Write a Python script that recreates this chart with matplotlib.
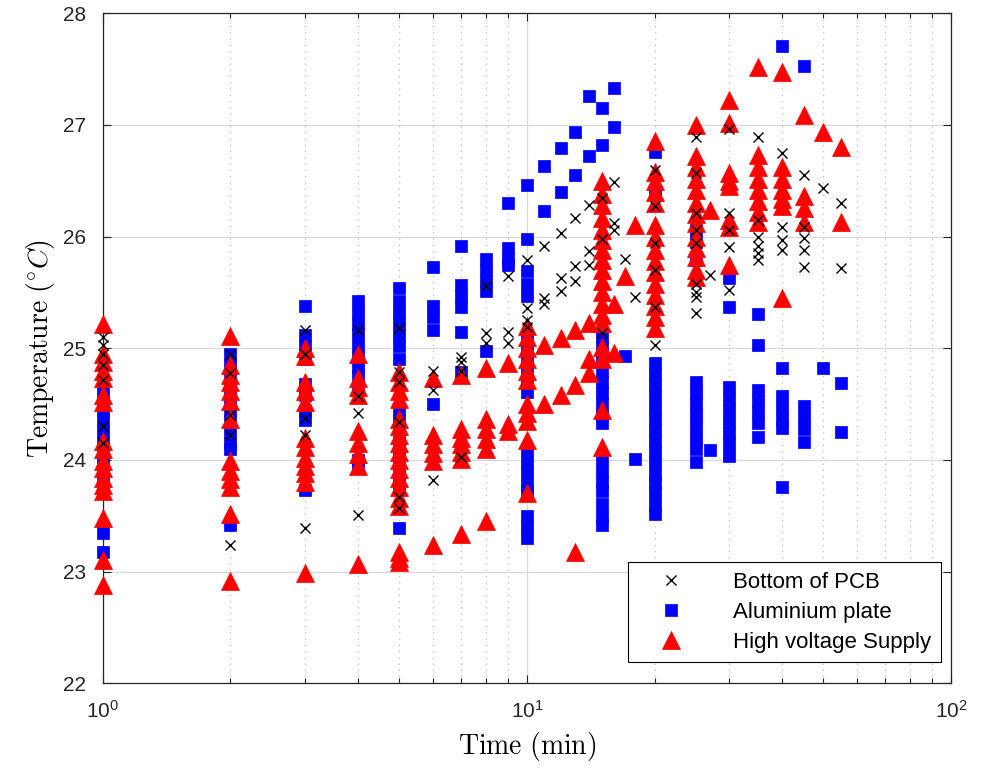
import matplotlib
matplotlib.use('Agg')
import matplotlib.pyplot as plt
from matplotlib.ticker import FixedLocator, FixedFormatter, NullFormatter

plt.rcParams['font.family'] = ['Liberation Sans', 'DejaVu Sans']
plt.rcParams['mathtext.fontset'] = 'cm'

# Bottom of PCB (black crosses): times and temperatures read per column
pcb_time = [1, 2, 3, 4, 5, 6, 7, 8, 9, 10, 11, 12, 13, 14, 15, 16, 17, 18,
            20, 25, 27, 30, 35, 40, 45, 50, 55]
pcb_temp = [
    [25.1, 25.03, 24.95, 24.85, 24.72, 24.3, 24.15],
    [24.95, 24.78, 24.4, 24.22, 23.24],
    [25.16, 24.95, 24.38, 24.22, 23.39],
    [25.16, 24.57, 24.42, 23.51],
    [25.18, 24.79, 24.7, 24.34, 23.67, 23.57],
    [24.8, 24.63, 23.82],
    [24.92, 24.88, 24.8, 24.03],
    [25.56, 25.14, 25.05],
    [25.65, 25.15, 25.05],
    [25.79, 25.36, 25.25, 25.19],
    [25.92, 25.45, 25.4],
    [26.03, 25.63, 25.51],
    [26.17, 25.74, 25.6],
    [26.28, 25.87, 25.75],
    [26.35, 25.98, 25.14],
    [26.49, 26.12, 26.06],
    [25.8],
    [25.46],
    [26.6, 26.27, 25.94, 25.7, 25.37, 25.03],
    [26.89, 26.57, 26.21, 26.06, 25.94, 25.58, 25.5, 25.46, 25.32],
    [25.66],
    [26.96, 26.21, 26.06, 25.91, 25.52],
    [26.89, 26.15, 26.0, 25.92, 25.85, 25.79],
    [26.75, 26.09, 25.97, 25.88],
    [26.55, 26.09, 25.99, 25.88, 25.73],
    [26.44],
    [26.3, 25.72],
]

# Aluminium plate (blue squares)
alu_time = [1, 2, 3, 4, 5, 6, 7, 8, 9, 10, 11, 12, 13, 14, 15, 16, 17, 18,
            20, 25, 27, 30, 35, 40, 45, 50, 55]
alu_temp = [
    [24.65, 24.55, 24.45, 24.35, 24.25, 24.15, 24.05, 23.95, 23.85, 23.75,
     23.7, 23.35, 23.18],
    [24.95, 24.85, 24.75, 24.65, 24.55, 24.45, 24.35, 24.25, 24.15, 24.1,
     23.42],
    [25.38, 25.12, 25.02, 24.9, 24.68, 24.58, 24.44, 24.36, 23.73],
    [25.42, 25.32, 25.22, 25.13, 25.02, 24.92, 24.83, 24.75, 24.63, 24.0,
     23.93],
    [25.54, 25.42, 25.32, 25.22, 25.12, 25.02, 24.9, 24.45, 24.35, 24.27,
     24.15, 24.05, 23.95, 23.85, 23.75, 23.39, 23.08],
    [25.73, 25.38, 25.28, 25.16, 24.5],
    [25.92, 25.57, 25.47, 25.37, 25.15, 24.79],
    [25.8, 25.7, 25.6, 25.51, 24.98],
    [26.3, 25.9, 25.8, 25.75],
    [26.46, 25.98, 25.69, 25.58, 25.47, 25.12, 25.02, 24.92, 24.79, 24.69,
     24.61, 24.08, 23.98, 23.88, 23.78, 23.72, 23.5, 23.4, 23.3],
    [26.63, 26.23],
    [26.79, 26.4],
    [26.94, 26.55],
    [27.26, 26.72],
    [27.15, 26.82, 25.1, 25.0, 24.9, 24.8, 24.7, 24.6, 24.5, 24.4, 24.33,
     24.01, 23.9, 23.8, 23.72, 23.61, 23.5, 23.42],
    [27.33, 26.98],
    [24.93],
    [24.01],
    [26.76, 26.4, 24.87, 24.77, 24.67, 24.57, 24.47, 24.37, 24.27, 24.17,
     24.07, 23.97, 23.87, 23.79, 23.7, 23.6, 23.52],
    [26.06, 25.95, 25.79, 24.7, 24.6, 24.5, 24.4, 24.3, 24.2, 24.1, 23.98],
    [24.09],
    [25.63, 25.37, 24.65, 24.55, 24.45, 24.34, 24.24, 24.14, 24.04],
    [25.31, 25.03, 24.63, 24.53, 24.43, 24.33, 24.21],
    [27.71, 24.82, 24.57, 24.47, 24.37, 24.29, 23.76],
    [27.53, 24.48, 24.38, 24.28, 24.16],
    [24.82],
    [24.69, 24.25],
]

# High voltage Supply (red triangles)
hv_time = [1, 2, 3, 4, 5, 6, 7, 8, 9, 10, 11, 12, 13, 14, 15, 16, 17, 18,
           20, 25, 27, 30, 35, 40, 45, 50, 55]
hv_temp = [
    [25.22, 24.95, 24.88, 24.8, 24.73, 24.58, 24.52, 24.17, 24.1, 23.99,
     23.93, 23.84, 23.78, 23.72, 23.48, 23.1, 22.88],
    [25.11, 24.85, 24.76, 24.7, 24.62, 24.53, 24.37, 23.99, 23.9, 23.83,
     23.76, 23.52, 22.92],
    [25.0, 24.93, 24.7, 24.62, 24.52, 24.2, 24.12, 24.02, 23.95, 23.88,
     23.8, 22.99],
    [24.95, 24.73, 24.65, 24.58, 24.26, 24.15, 24.05, 23.95, 23.07],
    [24.79, 24.7, 24.62, 24.55, 24.37, 24.3, 24.22, 24.15, 24.07, 24.0,
     23.92, 23.84, 23.76, 23.66, 23.59, 23.18, 23.12, 23.09],
    [24.73, 24.22, 24.14, 24.06, 23.99, 23.24],
    [24.76, 24.28, 24.2, 24.14, 24.07, 24.01, 23.34],
    [24.82, 24.37, 24.28, 24.19, 24.1, 23.45],
    [24.87, 24.32, 24.26],
    [25.2, 25.1, 25.0, 24.9, 24.8, 24.72, 24.5, 24.42, 24.35, 24.18, 23.7],
    [25.03, 24.5],
    [25.09, 24.58],
    [25.16, 24.67, 23.18],
    [25.23, 24.9, 24.78],
    [26.5, 26.38, 26.28, 26.17, 26.06, 25.97, 25.88, 25.79, 25.7, 25.6,
     25.5, 25.4, 25.3, 25.23, 25.01, 24.9, 24.45, 24.12],
    [25.4, 24.96],
    [25.65],
    [26.1],
    [26.86, 26.58, 26.5, 26.4, 26.3, 26.1, 26.0, 25.88, 25.78, 25.68,
     25.58, 25.48, 25.38, 25.28, 25.18],
    [27.0, 26.72, 26.62, 26.52, 26.42, 26.3, 26.2, 26.12, 26.0, 25.9,
     25.82, 25.7, 25.64],
    [26.24],
    [27.22, 27.02, 26.57, 26.5, 26.45, 26.15, 26.09, 25.75],
    [27.52, 26.73, 26.62, 26.52, 26.42, 26.32, 26.22, 26.13],
    [27.47, 26.62, 26.52, 26.42, 26.34, 26.27, 25.45],
    [27.09, 26.36, 26.26, 26.13],
    [26.94],
    [26.8, 26.13],
]


def flatten(times, temps):
    xs, ys = [], []
    for t, col in zip(times, temps):
        for v in col:
            xs.append(t)
            ys.append(v)
    return xs, ys


pcb_x, pcb_y = flatten(pcb_time, pcb_temp)
alu_x, alu_y = flatten(alu_time, alu_temp)
hv_x, hv_y = flatten(hv_time, hv_temp)

fig = plt.figure(figsize=(9.97, 7.69), dpi=100)
ax = fig.add_axes([0.103, 0.1114, 0.851, 0.8713])

ax.plot(pcb_x, pcb_y, linestyle='none', marker='x', color='black',
        markersize=7, markeredgewidth=1.0, label='Bottom of PCB', zorder=5,
        clip_on=False)
ax.plot(alu_x, alu_y, linestyle='none', marker='s', color='blue',
        markersize=9, markeredgewidth=0.5, label='Aluminium plate', zorder=3,
        clip_on=False)
ax.plot(hv_x, hv_y, linestyle='none', marker='^', color='red',
        markersize=13, markeredgewidth=0.5, label='High voltage Supply',
        zorder=4, clip_on=False)

ax.set_xscale('log')
ax.set_xlim(1, 100)
ax.set_ylim(22, 28)

ax.xaxis.set_major_locator(FixedLocator([1, 10, 100]))
ax.xaxis.set_major_formatter(FixedFormatter([r'$\mathregular{10^{0}}$',
                                             r'$\mathregular{10^{1}}$',
                                             r'$\mathregular{10^{2}}$']))
ax.xaxis.set_minor_locator(FixedLocator([2, 3, 4, 5, 6, 7, 8, 9,
                                         20, 30, 40, 50, 60, 70, 80, 90]))
ax.xaxis.set_minor_formatter(NullFormatter())
ax.set_yticks([22, 23, 24, 25, 26, 27, 28])

ax.grid(True, which='major', color='#d9d9d9', linestyle='-', linewidth=0.9, zorder=0)
ax.grid(True, which='minor', axis='x', color='#bdbdbd', linestyle=(0, (1, 4)),
        linewidth=0.9, zorder=0)
ax.set_axisbelow(True)

ax.tick_params(which='both', direction='in', top=True, right=True,
               labelsize=15, colors='#262626')
ax.tick_params(which='major', length=6, width=0.8)
ax.tick_params(axis='y', which='major', pad=12)
ax.tick_params(axis='x', which='major', pad=12)
ax.tick_params(which='minor', length=3.5, width=0.8)
for s in ax.spines.values():
    s.set_linewidth(0.9)
    s.set_color('#262626')

ax.set_xlabel(r'$\mathrm{Time\ (min)}$', fontsize=20, labelpad=6)
ax.set_ylabel(r'$\mathrm{Temperature}\ (^{\circ}C)$', fontsize=20, labelpad=4)

leg = ax.legend(loc='lower right', bbox_to_anchor=(0.9875, 0.032),
                fontsize=16, frameon=True, fancybox=False, framealpha=1,
                edgecolor='black', borderpad=0.42, labelspacing=0.4,
                handletextpad=1.3, handlelength=3.0, borderaxespad=0)
leg.get_frame().set_linewidth(0.8)

fig.savefig('out.png', dpi=100)
